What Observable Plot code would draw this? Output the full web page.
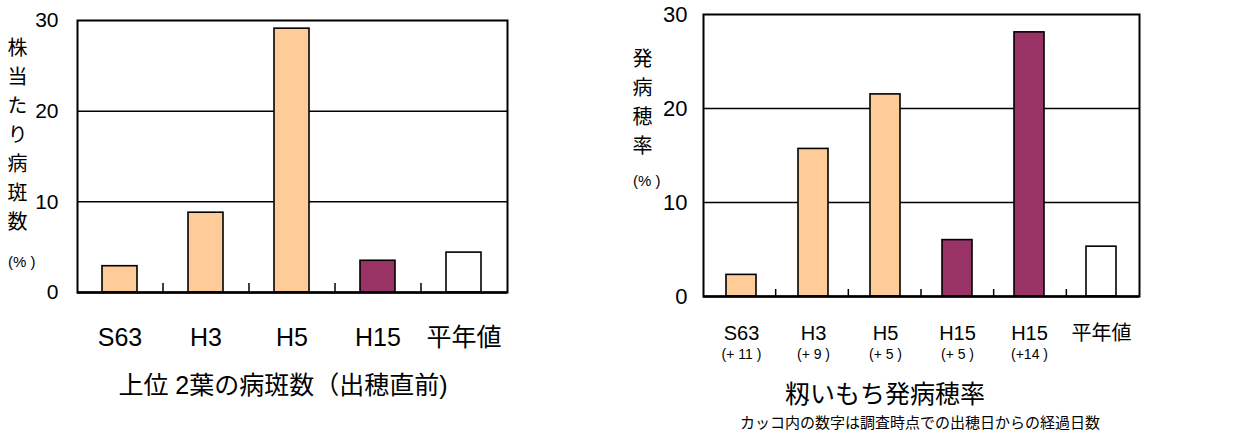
<!DOCTYPE html>
<html><head><meta charset="utf-8">
<script src="https://cdn.jsdelivr.net/npm/d3@7"></script>
<script src="https://cdn.jsdelivr.net/npm/@observablehq/plot@0.6"></script>
<style>
body{margin:0;background:#fff;}
#wrap{position:relative;width:1234px;height:434px;overflow:hidden;background:#fff;font-family:"Liberation Sans","Noto Sans CJK JP",sans-serif;color:#000;}
.abs{position:absolute;white-space:nowrap;}
.vlab{writing-mode:vertical-rl;text-orientation:upright;font-family:"Noto Sans CJK JP",sans-serif;line-height:1;}
.jp{font-family:"Liberation Sans","Noto Sans CJK JP",sans-serif;line-height:1;}
</style></head>
<body><div id="wrap"></div>
<script>
// ---- data ----
const leftCategories = ["S63","H3","H5","H15","平年値"];
const leftValues = [2.9, 8.8, 29.1, 3.5, 4.4];
const leftGroups = ["past","past","past","h15","avg"];

const rightKeys = ["S63","H3","H5","H15a","H15b","平年値"];
const rightLabels = ["S63","H3","H5","H15","H15","平年値"];
const rightDays = ["(+ 11 )","(+ 9 )","(+ 5 )","(+ 5 )","(+14 )",""];
const rightValues = [2.3, 15.7, 21.5, 6.0, 28.1, 5.3];
const rightGroups = ["past","past","past","h15","h15","avg"];

const yTicks = [0, 10, 20, 30];
const gridValues = [10, 20];
const groupDomain = ["past","h15","avg"];
const groupColors = ["#FFCC99","#993366","#FFFFFF"];

const leftData = leftCategories.map((c,i)=>({cat:c, value:leftValues[i], group:leftGroups[i]}));
const rightData = rightKeys.map((k,i)=>({cat:k, value:rightValues[i], group:rightGroups[i], days:rightDays[i]}));

function boundaryTicks(cats, len) {
  return (index, scales, values, dims) => {
    const g = d3.create("svg:g");
    const n = cats.length;
    const step = (dims.width - dims.marginLeft - dims.marginRight) / n;
    const y0 = scales.y(0);
    for (let i = 1; i < n; i++) {
      const xb = dims.marginLeft + i * step;
      g.append("line").attr("x1", xb).attr("x2", xb).attr("y1", y0).attr("y2", y0 - len)
        .attr("stroke", "black").attr("stroke-width", 1.5);
    }
    return g.node();
  };
}

const wrap = document.getElementById("wrap");

const left = Plot.plot({
  width: 620, height: 434,
  marginLeft: 77, marginRight: 113, marginTop: 20, marginBottom: 142,
  x: {domain: leftCategories, paddingInner: 0.59, paddingOuter: 0.295, label: null},
  y: {domain: [0, 30], label: null},
  color: {domain: groupDomain, range: groupColors},
  style: {fontFamily: '"Liberation Sans","Noto Sans CJK JP",sans-serif', background: "transparent", color: "black"},
  marks: [
    Plot.ruleY(gridValues, {stroke: "black", strokeWidth: 1.5}),
    Plot.barY(leftData, {x: "cat", y: "value", fill: "group", stroke: "black", strokeWidth: 1.6}),
    boundaryTicks(leftCategories, 9),
    Plot.frame({stroke: "black", strokeWidth: 2}),
    Plot.ruleY([0], {stroke: "black", strokeWidth: 2.5}),
    Plot.axisY({ticks: yTicks, tickSize: 0, tickPadding: 19, fontSize: 21, label: null}),
    Plot.axisX({tickSize: 0, tickPadding: 36, fontSize: 25, label: null})
  ]
});
left.style.position = "absolute"; left.style.left = "0px"; left.style.top = "0px";
wrap.appendChild(left);

const right = Plot.plot({
  width: 614, height: 434,
  marginLeft: 83, marginRight: 95, marginTop: 14, marginBottom: 138,
  x: {domain: rightKeys, paddingInner: 0.59, paddingOuter: 0.295, label: null},
  y: {domain: [0, 30], label: null},
  color: {domain: groupDomain, range: groupColors},
  style: {fontFamily: '"Liberation Sans","Noto Sans CJK JP",sans-serif', background: "transparent", color: "black"},
  marks: [
    Plot.ruleY(gridValues, {stroke: "black", strokeWidth: 1.5}),
    Plot.barY(rightData, {x: "cat", y: "value", fill: "group", stroke: "black", strokeWidth: 1.6}),
    boundaryTicks(rightKeys, 7),
    Plot.frame({stroke: "black", strokeWidth: 2}),
    Plot.ruleY([0], {stroke: "black", strokeWidth: 2.5}),
    Plot.axisY({ticks: yTicks, tickSize: 0, tickPadding: 16, fontSize: 22, label: null}),
    Plot.axisX({tickSize: 0, tickPadding: 29, fontSize: 20, label: null,
      tickFormat: d => rightLabels[rightKeys.indexOf(d)]}),
    Plot.text(rightData, {x: "cat", text: "days", frameAnchor: "bottom", dy: 62, fontSize: 14})
  ]
});
right.style.position = "absolute"; right.style.left = "620px"; right.style.top = "0px";
wrap.appendChild(right);

function addText(html, css, cls) {
  const d = document.createElement("div");
  d.className = "abs " + (cls || "");
  d.innerHTML = html;
  Object.assign(d.style, css);
  wrap.appendChild(d);
}
addText("株当たり病斑数", {left: "7px", top: "37px", fontSize: "20px", letterSpacing: "9px"}, "vlab");
addText("(% )", {left: "8px", top: "254px", fontSize: "15px"}, "jp");
addText("発病穂率", {left: "632px", top: "48px", fontSize: "20px", letterSpacing: "9px"}, "vlab");
addText("(% )", {left: "633px", top: "173px", fontSize: "15px"}, "jp");
addText("上位 2葉の病斑数（出穂直前)", {left: "0px", width: "566px", textAlign: "center", top: "373px", fontSize: "25px"}, "jp");
addText("籾いもち発病穂率", {left: "700px", width: "370px", textAlign: "center", top: "382px", fontSize: "25px"}, "jp");
addText("カッコ内の数字は調査時点での出穂日からの経過日数", {left: "700px", width: "440px", textAlign: "center", top: "415px", fontSize: "15px", letterSpacing: "0px"}, "jp");
</script></body></html>
